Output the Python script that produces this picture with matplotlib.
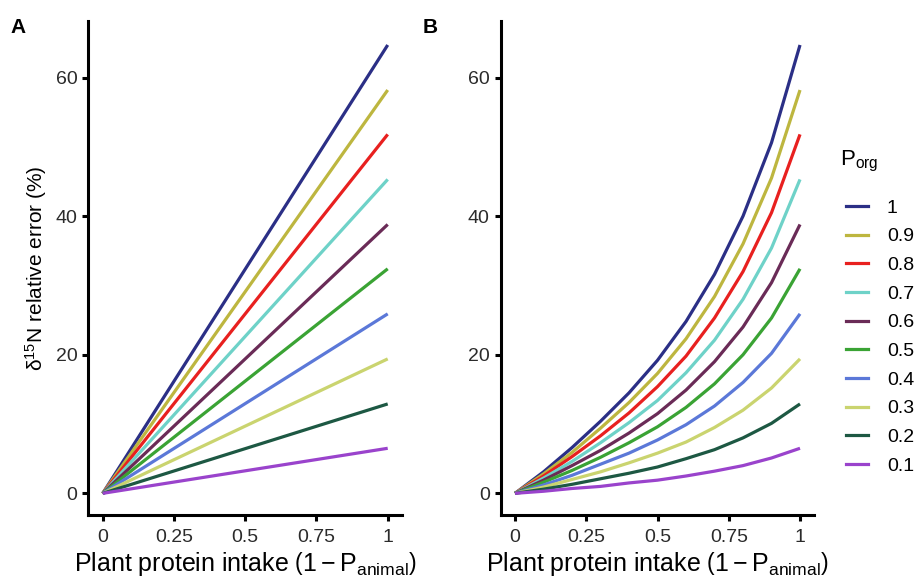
import matplotlib
matplotlib.use("Agg")
import matplotlib.pyplot as plt
from matplotlib.lines import Line2D

plt.rcParams['font.family'] = ['Liberation Sans', 'DejaVu Sans']
plt.rcParams['mathtext.fontset'] = 'custom'
plt.rcParams['mathtext.rm'] = 'Liberation Sans'
plt.rcParams['mathtext.it'] = 'Liberation Sans:italic'

# P_org levels (legend order) and colours
p_org = ['1', '0.9', '0.8', '0.7', '0.6', '0.5', '0.4', '0.3', '0.2', '0.1']
colors = ['#2b2f86', '#bdb63f', '#e8201f', '#6ed2c8', '#6a2b57',
          '#3aa334', '#5b78d8', '#cad46f', '#1d5843', '#9a43cc']

# panel A: straight lines from 0 to the value at x = 1
x_a = [0, 1]
end_a = [64.7, 58.2, 51.8, 45.3, 38.8, 32.4, 25.9, 19.4, 12.9, 6.5]

# panel B: curves read at x = 0, 0.1, ..., 1
x_b = [0, 0.1, 0.2, 0.3, 0.4, 0.5, 0.6, 0.7, 0.8, 0.9, 1.0]
b_10 = [0, 3.1, 6.6, 10.4, 14.5, 19.2, 24.8, 31.6, 40.0, 50.6, 64.7]
b_09 = [0, 2.8, 5.9, 9.4, 13.1, 17.3, 22.3, 28.4, 36.0, 45.5, 58.2]
b_08 = [0, 2.5, 5.3, 8.3, 11.6, 15.4, 19.8, 25.3, 32.0, 40.5, 51.8]
b_07 = [0, 2.2, 4.6, 7.3, 10.2, 13.4, 17.4, 22.1, 28.0, 35.4, 45.3]
b_06 = [0, 1.9, 4.0, 6.2, 8.7, 11.5, 14.9, 19.0, 24.0, 30.4, 38.8]
b_05 = [0, 1.6, 3.3, 5.2, 7.3, 9.6, 12.4, 15.8, 20.0, 25.3, 32.4]
b_04 = [0, 1.2, 2.6, 4.2, 5.8, 7.7, 9.9, 12.6, 16.0, 20.2, 25.9]
b_03 = [0, 0.9, 2.0, 3.1, 4.4, 5.8, 7.4, 9.5, 12.0, 15.2, 19.4]
b_02 = [0, 0.6, 1.3, 2.1, 2.9, 3.8, 5.0, 6.3, 8.0, 10.1, 12.9]
b_01 = [0, 0.3, 0.7, 1.0, 1.5, 1.9, 2.5, 3.2, 4.0, 5.1, 6.5]
curves_b = [b_10, b_09, b_08, b_07, b_06, b_05, b_04, b_03, b_02, b_01]

x_ticks = [0, 0.25, 0.5, 0.75, 1]
x_ticklabels = ['0', '0.25', '0.5', '0.75', '1']
y_ticks = [0, 20, 40, 60]

fig = plt.figure(figsize=(9.15, 5.79), dpi=100)
ax_a = fig.add_axes([0.0967, 0.1105, 0.3426, 0.8537])
ax_b = fig.add_axes([0.5473, 0.1105, 0.3426, 0.8537])


def style_axis(ax):
    ax.set_xlim(-0.05, 1.05)
    ax.set_ylim(-3.13, 68.2)
    for s in ['top', 'right']:
        ax.spines[s].set_visible(False)
    for s in ['left', 'bottom']:
        ax.spines[s].set_linewidth(2.2)
    ax.set_xticks(x_ticks)
    ax.set_xticklabels(x_ticklabels)
    ax.set_yticks(y_ticks)
    ax.tick_params(width=2.2, length=4, labelsize=14, colors='black',
                   labelcolor='#2b2b2b', pad=4)
    ax.tick_params(axis='x', pad=6)
    ax.set_xlabel(r"Plant protein intake $\left(1 - \mathrm{P}_{\mathrm{animal}}\right)$",
                  fontsize=18, labelpad=3)


for i in range(len(p_org)):
    ax_a.plot(x_a, [0, end_a[i]], color=colors[i], lw=2.3,
              solid_capstyle='butt')
    ax_b.plot(x_b, curves_b[i], color=colors[i], lw=2.3,
              solid_capstyle='butt', label=p_org[i])

style_axis(ax_a)
style_axis(ax_b)
ax_a.set_ylabel(r"$\mathrm{\delta}^{15}$N relative error (%)", fontsize=15, labelpad=5)

fig.text(0.011, 0.952, 'A', fontsize=15, fontweight='bold', va='center')
fig.text(0.462, 0.952, 'B', fontsize=15, fontweight='bold', va='center')

# legend title placed on its own, entries below it
fig.text(0.9175, 1 - 161 / 579, r"P$_{\mathrm{org}}$", fontsize=16, va='center')
handles = [Line2D([0], [0], color=c, lw=2.3) for c in colors]
fig.legend(handles, p_org, loc='upper left',
           bbox_to_anchor=(0.9245, 1 - 199 / 579), frameon=False, fontsize=14,
           handlelength=1.15, handletextpad=0.95,
           labelspacing=0.57, borderaxespad=0, borderpad=0)

fig.savefig('out.png', dpi=100)
